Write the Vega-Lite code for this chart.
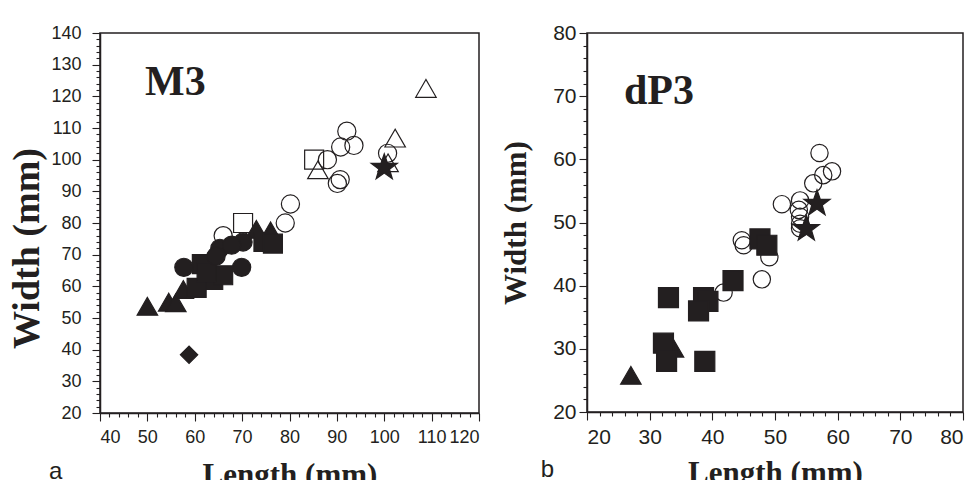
{
  "$schema": "https://vega.github.io/schema/vega-lite/v6.json",
  "background": "white",
  "padding": {"left": 8, "top": 21, "right": 5, "bottom": 5},
  "bounds": "flush",
  "spacing": 108,
  "config": {
    "view": {"stroke": "#231f20", "strokeWidth": 1.5},
    "axis": {
      "grid": false,
      "domainColor": "#231f20",
      "domainWidth": 1.5,
      "tickColor": "#231f20",
      "tickWidth": 1.1,
      "tickSize": 6,
      "labelOverlap": false,
      "labelColor": "#231f20",
      "labelFont": "Liberation Sans",
      "titleFont": "Liberation Serif",
      "titleFontWeight": "bold",
      "titleColor": "#231f20"
    },
    "title": {"font": "Liberation Sans", "fontWeight": "normal", "color": "#231f20"}
  },
  "datasets": {
    "pts": [
      {"panel": "M3", "len": 108.8, "wid": 122.5, "sym": "triangle", "kind": "open"},
      {"panel": "M3", "len": 102.3, "wid": 106.8, "sym": "triangle", "kind": "open"},
      {"panel": "M3", "len": 100.8, "wid": 99.0, "sym": "triangle", "kind": "open"},
      {"panel": "M3", "len": 86.0, "wid": 96.8, "sym": "triangle", "kind": "open"},
      {"panel": "M3", "len": 100.7, "wid": 102.0, "sym": "circle", "kind": "open"},
      {"panel": "M3", "len": 92.1, "wid": 109.0, "sym": "circle", "kind": "open"},
      {"panel": "M3", "len": 90.8, "wid": 104.0, "sym": "circle", "kind": "open"},
      {"panel": "M3", "len": 93.6, "wid": 104.5, "sym": "circle", "kind": "open"},
      {"panel": "M3", "len": 88.0, "wid": 100.0, "sym": "circle", "kind": "open"},
      {"panel": "M3", "len": 90.7, "wid": 93.7, "sym": "circle", "kind": "open"},
      {"panel": "M3", "len": 90.1, "wid": 92.5, "sym": "circle", "kind": "open"},
      {"panel": "M3", "len": 80.2, "wid": 86.0, "sym": "circle", "kind": "open"},
      {"panel": "M3", "len": 79.1, "wid": 80.0, "sym": "circle", "kind": "open"},
      {"panel": "M3", "len": 66.0, "wid": 76.0, "sym": "circle", "kind": "open"},
      {"panel": "M3", "len": 85.2, "wid": 100.0, "sym": "square", "kind": "open"},
      {"panel": "M3", "len": 70.2, "wid": 80.0, "sym": "square", "kind": "open"},
      {"panel": "M3", "len": 100.0, "wid": 97.5, "sym": "star", "kind": "filled"},
      {"panel": "M3", "len": 73.0, "wid": 78.0, "sym": "triangle", "kind": "filled"},
      {"panel": "M3", "len": 76.0, "wid": 77.5, "sym": "triangle", "kind": "filled"},
      {"panel": "M3", "len": 50.0, "wid": 53.7, "sym": "triangle", "kind": "filled"},
      {"panel": "M3", "len": 54.5, "wid": 55.0, "sym": "triangle", "kind": "filled"},
      {"panel": "M3", "len": 56.0, "wid": 54.8, "sym": "triangle", "kind": "filled"},
      {"panel": "M3", "len": 57.6, "wid": 59.0, "sym": "triangle", "kind": "filled"},
      {"panel": "M3", "len": 74.5, "wid": 74.0, "sym": "square", "kind": "filled"},
      {"panel": "M3", "len": 76.5, "wid": 73.5, "sym": "square", "kind": "filled"},
      {"panel": "M3", "len": 61.5, "wid": 67.0, "sym": "square", "kind": "filled"},
      {"panel": "M3", "len": 63.9, "wid": 62.0, "sym": "square", "kind": "filled"},
      {"panel": "M3", "len": 60.4, "wid": 59.5, "sym": "square", "kind": "filled"},
      {"panel": "M3", "len": 66.0, "wid": 63.5, "sym": "square", "kind": "filled"},
      {"panel": "M3", "len": 62.5, "wid": 64.5, "sym": "square", "kind": "filled"},
      {"panel": "M3", "len": 57.7, "wid": 66.0, "sym": "circle", "kind": "filled"},
      {"panel": "M3", "len": 69.9, "wid": 66.0, "sym": "circle", "kind": "filled"},
      {"panel": "M3", "len": 65.3, "wid": 72.0, "sym": "circle", "kind": "filled"},
      {"panel": "M3", "len": 70.2, "wid": 74.0, "sym": "circle", "kind": "filled"},
      {"panel": "M3", "len": 67.8, "wid": 73.0, "sym": "circle", "kind": "filled"},
      {"panel": "M3", "len": 64.5, "wid": 69.5, "sym": "circle", "kind": "filled"},
      {"panel": "M3", "len": 58.8, "wid": 38.4, "sym": "diamond", "kind": "filled"},
      {"panel": "dP3", "len": 57.1, "wid": 61.0, "sym": "circle", "kind": "open"},
      {"panel": "dP3", "len": 59.1, "wid": 58.1, "sym": "circle", "kind": "open"},
      {"panel": "dP3", "len": 57.7, "wid": 57.5, "sym": "circle", "kind": "open"},
      {"panel": "dP3", "len": 56.1, "wid": 56.2, "sym": "circle", "kind": "open"},
      {"panel": "dP3", "len": 54.0, "wid": 53.5, "sym": "circle", "kind": "open"},
      {"panel": "dP3", "len": 51.1, "wid": 52.9, "sym": "circle", "kind": "open"},
      {"panel": "dP3", "len": 53.8, "wid": 52.0, "sym": "circle", "kind": "open"},
      {"panel": "dP3", "len": 54.0, "wid": 50.9, "sym": "circle", "kind": "open"},
      {"panel": "dP3", "len": 54.0, "wid": 49.8, "sym": "circle", "kind": "open"},
      {"panel": "dP3", "len": 54.0, "wid": 49.1, "sym": "circle", "kind": "open"},
      {"panel": "dP3", "len": 44.7, "wid": 47.2, "sym": "circle", "kind": "open"},
      {"panel": "dP3", "len": 45.0, "wid": 46.4, "sym": "circle", "kind": "open"},
      {"panel": "dP3", "len": 49.1, "wid": 44.5, "sym": "circle", "kind": "open"},
      {"panel": "dP3", "len": 47.9, "wid": 41.0, "sym": "circle", "kind": "open"},
      {"panel": "dP3", "len": 41.8, "wid": 38.9, "sym": "circle", "kind": "open"},
      {"panel": "dP3", "len": 56.7, "wid": 53.0, "sym": "star", "kind": "filled"},
      {"panel": "dP3", "len": 55.0, "wid": 49.0, "sym": "star", "kind": "filled"},
      {"panel": "dP3", "len": 27.0, "wid": 25.8, "sym": "triangle", "kind": "filled"},
      {"panel": "dP3", "len": 33.8, "wid": 30.1, "sym": "triangle", "kind": "filled"},
      {"panel": "dP3", "len": 33.0, "wid": 38.1, "sym": "square", "kind": "filled"},
      {"panel": "dP3", "len": 38.6, "wid": 38.1, "sym": "square", "kind": "filled"},
      {"panel": "dP3", "len": 39.3, "wid": 37.5, "sym": "square", "kind": "filled"},
      {"panel": "dP3", "len": 37.8, "wid": 36.0, "sym": "square", "kind": "filled"},
      {"panel": "dP3", "len": 43.3, "wid": 40.8, "sym": "square", "kind": "filled"},
      {"panel": "dP3", "len": 32.2, "wid": 30.9, "sym": "square", "kind": "filled"},
      {"panel": "dP3", "len": 32.7, "wid": 28.0, "sym": "square", "kind": "filled"},
      {"panel": "dP3", "len": 38.8, "wid": 28.0, "sym": "square", "kind": "filled"},
      {"panel": "dP3", "len": 47.6, "wid": 47.4, "sym": "square", "kind": "filled"},
      {"panel": "dP3", "len": 48.7, "wid": 46.4, "sym": "square", "kind": "filled"}
    ]
  },
  "hconcat": [
    {
      "width": 379,
      "height": 380,
      "data": {"name": "pts"},
      "title": {"text": "a", "orient": "bottom", "anchor": "start", "frame": "bounds", "fontSize": 24, "offset": -30, "dx": 40},
      "layer": [
        {
          "transform": [{"filter": "datum.panel === 'M3'"}],
          "mark": {"type": "point", "filled": true, "stroke": "#231f20", "strokeWidth": 1.2, "opacity": 1},
          "encoding": {
            "x": {"field": "len", "type": "quantitative", "scale": {"domain": [40, 120], "nice": false, "zero": false},
              "axis": {"title": "Length (mm)", "titleFontSize": 31, "titlePadding": 14, "labelFontSize": 18, "labelPadding": 7, "tickCount": 200, "format": "d",
                "values": [40,42,44,46,48,50,52,54,56,58,60,62,64,66,68,70,72,74,76,78,80,82,84,86,88,90,92,94,96,98,100,102,104,106,108,110,112,114,116,118,120],
                "labelExpr": "datum.value % 10 === 0 ? datum.label : ''",
                "tickSize": {"condition": {"test": "datum.value % 10 === 0", "value": 8}, "value": 4}}},
            "y": {"field": "wid", "type": "quantitative", "scale": {"domain": [20, 140], "nice": false, "zero": false},
              "axis": {"title": "Width (mm)", "titleFontSize": 38, "titlePadding": 4, "titleY": 215, "labelFontSize": 18, "labelPadding": 11, "tickCount": 200, "format": "d",
                "values": [20,22,24,26,28,30,32,34,36,38,40,42,44,46,48,50,52,54,56,58,60,62,64,66,68,70,72,74,76,78,80,82,84,86,88,90,92,94,96,98,100,102,104,106,108,110,112,114,116,118,120,122,124,126,128,130,132,134,136,138,140],
                "labelExpr": "datum.value % 10 === 0 ? datum.label : ''",
                "tickSize": {"condition": {"test": "datum.value % 10 === 0", "value": 8}, "value": 4}}},
            "shape": {"field": "sym", "type": "nominal", "legend": null,
              "scale": {"domain": ["circle", "square", "triangle", "diamond", "star"],
                "range": ["circle", "square", "triangle-up", "diamond", "M0,-1L0.235,-0.324L0.951,-0.309L0.38,0.124L0.588,0.809L0,0.4L-0.588,0.809L-0.38,0.124L-0.951,-0.309L-0.235,-0.324Z"]}},
            "fill": {"field": "kind", "type": "nominal", "scale": {"domain": ["filled", "open"], "range": ["#231f20", "transparent"]}, "legend": null},
            "size": {"field": "sym", "type": "nominal", "legend": null,
              "scale": {"type": "ordinal", "domain": ["circle", "square", "triangle", "diamond", "star"], "range": [330, 360, 420, 300, 760]}}
          }
        },
        {
          "data": {"values": [{}]},
          "mark": {"type": "text", "font": "Liberation Serif", "fontWeight": "bold", "fontSize": 42, "align": "left", "baseline": "alphabetic", "color": "#231f20"},
          "encoding": {"x": {"datum": 49.5}, "y": {"datum": 120.5}, "text": {"value": "M3"}}
        }
      ]
    },
    {
      "width": 376,
      "height": 379,
      "data": {"name": "pts"},
      "title": {"text": "b", "orient": "bottom", "anchor": "start", "frame": "bounds", "fontSize": 24, "offset": -30, "dx": 40},
      "layer": [
        {
          "transform": [{"filter": "datum.panel === 'dP3'"}],
          "mark": {"type": "point", "filled": true, "stroke": "#231f20", "strokeWidth": 1.2, "opacity": 1},
          "encoding": {
            "x": {"field": "len", "type": "quantitative", "scale": {"domain": [20, 80], "nice": false, "zero": false},
              "axis": {"title": "Length (mm)", "titleFontSize": 31, "titlePadding": 11, "labelFontSize": 21, "labelPadding": 6, "tickCount": 200, "format": "d",
                "values": [20,22,24,26,28,30,32,34,36,38,40,42,44,46,48,50,52,54,56,58,60,62,64,66,68,70,72,74,76,78,80],
                "labelExpr": "datum.value % 10 === 0 ? datum.label : ''",
                "tickSize": {"condition": {"test": "datum.value % 10 === 0", "value": 8}, "value": 4}}},
            "y": {"field": "wid", "type": "quantitative", "scale": {"domain": [20, 80], "nice": false, "zero": false},
              "axis": {"title": "Width (mm)", "titleFontSize": 31, "titlePadding": 20, "labelFontSize": 21, "labelPadding": 3, "tickCount": 200, "format": "d",
                "values": [20,22,24,26,28,30,32,34,36,38,40,42,44,46,48,50,52,54,56,58,60,62,64,66,68,70,72,74,76,78,80],
                "labelExpr": "datum.value % 10 === 0 ? datum.label : ''",
                "tickSize": {"condition": {"test": "datum.value % 10 === 0", "value": 8}, "value": 4}}},
            "shape": {"field": "sym", "type": "nominal", "legend": null,
              "scale": {"domain": ["circle", "square", "triangle", "diamond", "star"],
                "range": ["circle", "square", "triangle-up", "diamond", "M0,-1L0.235,-0.324L0.951,-0.309L0.38,0.124L0.588,0.809L0,0.4L-0.588,0.809L-0.38,0.124L-0.951,-0.309L-0.235,-0.324Z"]}},
            "fill": {"field": "kind", "type": "nominal", "scale": {"domain": ["filled", "open"], "range": ["#231f20", "transparent"]}, "legend": null},
            "size": {"field": "sym", "type": "nominal", "legend": null,
              "scale": {"type": "ordinal", "domain": ["circle", "square", "triangle", "diamond", "star"], "range": [300, 400, 420, 300, 760]}}
          }
        },
        {
          "data": {"values": [{}]},
          "mark": {"type": "text", "font": "Liberation Serif", "fontWeight": "bold", "fontSize": 42, "align": "left", "baseline": "alphabetic", "color": "#231f20"},
          "encoding": {"x": {"datum": 25.9}, "y": {"datum": 68.8}, "text": {"value": "dP3"}}
        }
      ]
    }
  ],
  "resolve": {"scale": {"shape": "independent", "fill": "independent", "size": "independent"}}
}
